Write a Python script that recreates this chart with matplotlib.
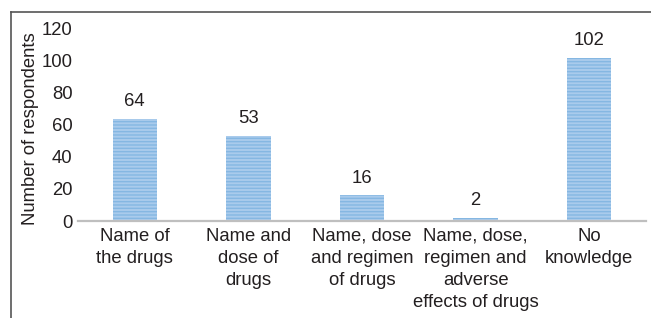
import matplotlib
matplotlib.use("Agg")
import matplotlib.pyplot as plt
from matplotlib.lines import Line2D

categories = ["Name of\nthe drugs", "Name and\ndose of\ndrugs", "Name, dose\nand regimen\nof drugs",
              "Name, dose,\nregimen and\nadverse\neffects of drugs", "No\nknowledge"]
respondents = [64, 53, 16, 2, 102]
yticks = [0, 20, 40, 60, 80, 100, 120]

plt.rcParams['font.family'] = ['Liberation Sans', 'DejaVu Sans']
plt.rcParams['hatch.linewidth'] = 1.0

fs = 13.3
tc = '#231f20'

fig = plt.figure(figsize=(6.51, 3.18), dpi=100)
ax = fig.add_axes([0.1198, 0.305, 0.8725, 0.604])

x = range(len(categories))
bars = ax.bar(x, respondents, width=0.39, color='#a9cbec', edgecolor='#85b7e2',
              linewidth=0, hatch='-----')
for xi, v in zip(x, respondents):
    ax.text(xi, v + 5.5, str(v), ha='center', va='bottom', fontsize=fs, color=tc)

ax.set_xlim(-0.5, 4.5)
ax.set_ylim(0, 120)
ax.set_yticks(yticks)
ax.set_xticks(list(x))
ax.set_xticklabels(categories, fontsize=fs, color=tc, linespacing=1.38)
ax.tick_params(axis='both', length=0, labelsize=fs, colors=tc)
ax.tick_params(axis='x', pad=5)
ax.tick_params(axis='y', pad=4)
for s in ['top', 'right', 'left']:
    ax.spines[s].set_visible(False)
ax.spines['bottom'].set_color('#bfbfbf')
ax.spines['bottom'].set_linewidth(1.6)
ax.set_ylabel("Number of respondents", fontsize=fs, color=tc, va='center')
ax.yaxis.set_label_coords(-0.083, 0.48)

# outer frame (left and top)
fig.add_artist(Line2D([11/651, 11/651], [0, 1 - 12/318], transform=fig.transFigure,
                      color='#555555', linewidth=1.2))
fig.add_artist(Line2D([11/651, 1], [1 - 12/318, 1 - 12/318], transform=fig.transFigure,
                      color='#555555', linewidth=1.2))

fig.savefig("out.png", dpi=100)
